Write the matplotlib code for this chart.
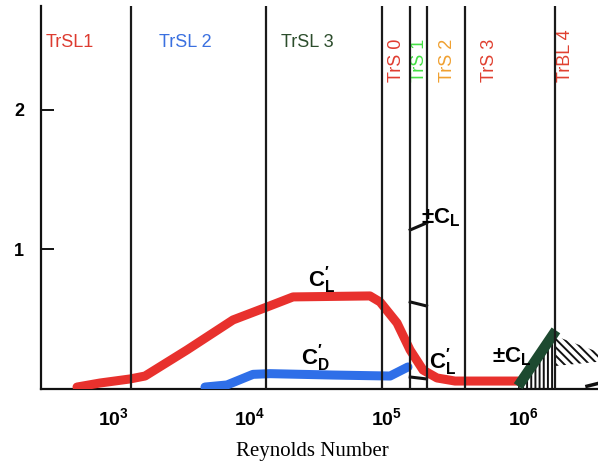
import matplotlib
matplotlib.use('Agg')
import matplotlib.pyplot as plt

plt.rcParams['mathtext.fontset'] = 'custom'
plt.rcParams['mathtext.rm'] = 'Liberation Sans'
plt.rcParams['mathtext.it'] = 'Liberation Sans'
plt.rcParams['mathtext.bf'] = 'Liberation Sans:bold'
plt.rcParams['hatch.linewidth'] = 1.4

#------------------------------------------------------------------------------#
# data
#------------------------------------------------------------------------------#
# regime boundaries (Reynolds number)
regime_bounds = [1.35e3, 1.30e4, 9.2e4, 1.47e5, 1.97e5, 3.75e5, 1.70e6]

# fluctuating lift C'_L
cl_re = [543, 800, 1325, 1706, 3459, 7500, 13300, 20600, 75200, 89100,
         118600, 147600, 183700, 232500, 314600, 908000]
cl_val = [0.014, 0.043, 0.072, 0.093, 0.28, 0.495, 0.588, 0.66, 0.667, 0.624,
          0.473, 0.28, 0.136, 0.079, 0.057, 0.057]

# fluctuating drag C'_D
cd_re = [4680, 6780, 10500, 14000, 40400, 105500, 142500]
cd_val = [0.014, 0.029, 0.105, 0.11, 0.10, 0.093, 0.158]

# +-C_L in TrBL
bl_re = [9.1e5, 1.72e6]
bl_val = [0.02, 0.42]

# diagonal hatched wedge right of TrBL 4
wedge_re = [1.70e6, 3.5e6]
wedge_top = [0.38, 0.265]
wedge_bot = [0.165, 0.195]

# short slashes between TrS 1 bounds
slash_re = [1.48e5, 1.95e5]
slash_vals = [[1.14, 1.19], [0.624, 0.595], [0.086, 0.072]]

# small dark stroke near the axis at far right
tail_re = [2.9e6, 3.5e6]
tail_val = [0.02, 0.04]

#------------------------------------------------------------------------------#
# labels
#------------------------------------------------------------------------------#
top_labels = ['TrSL1', 'TrSL 2', 'TrSL 3']
top_colors = ['#dd3b30', '#3a70e0', '#2c4d2c']
top_x = [0.052, 0.2585, 0.479]

side_labels = ['TrS 0', 'TrS 1', 'TrS 2', 'TrS 3', 'TrBL 4']
side_colors = ['#e03c30', '#44e044', '#f0a030', '#e04030', '#e04030']
side_x = [0.6386, 0.6804, 0.7307, 0.806, 0.9408]
side_y = [0.859, 0.859, 0.859, 0.859, 0.8695]

xtick_vals = [1e3, 1e4, 1e5, 1e6]
xtick_labels = [r'$\mathbf{10^{3}}$', r'$\mathbf{10^{4}}$',
                r'$\mathbf{10^{5}}$', r'$\mathbf{10^{6}}$']

#------------------------------------------------------------------------------#
fig = plt.figure(figsize=(5.98, 4.68), dpi=100)
ax = fig.add_axes([41 / 598, 79 / 468, 557 / 598, 383 / 468])
ax.set_xscale('log')
ax.set_xlim(10 ** 2.4715, 10 ** 6.543)
ax.set_ylim(0, 2.745)

for s in ['top', 'right']:
    ax.spines[s].set_visible(False)
for s in ['left', 'bottom']:
    ax.spines[s].set_linewidth(1.6)
    ax.spines[s].set_color('#111111')

# hatching
ax.fill_between(bl_re, 0, bl_val, facecolor='none', edgecolor='#111111',
                hatch='||||', linewidth=0, zorder=2)
ax.fill_between(wedge_re, wedge_bot, wedge_top, facecolor='none',
                edgecolor='#111111', hatch='\\\\\\\\', linewidth=0, zorder=2)
ax.plot(tail_re, tail_val, color='#111111', lw=2.5, zorder=2)

# curves
ax.plot(cl_re, cl_val, color='#e8312d', lw=6.5, solid_capstyle='round',
        solid_joinstyle='round', zorder=3)
ax.plot(cd_re, cd_val, color='#2f6fe8', lw=6.5, solid_capstyle='round',
        solid_joinstyle='round', zorder=3)
ax.plot(bl_re, bl_val, color='#1d4a30', lw=7.5, solid_capstyle='butt', zorder=4)

for yy in slash_vals:
    ax.plot(slash_re, yy, color='#111111', lw=2.2, zorder=4)

# regime bounds
for b in regime_bounds:
    ax.axvline(b, color='#1a1a1a', lw=1.6, zorder=5)

# regime names
for lab, c, x in zip(top_labels, top_colors, top_x):
    ax.text(x, 0.906, lab, color=c, fontsize=13, family='Liberation Sans',
            ha='center', va='center', transform=ax.transAxes)
for lab, c, x, y in zip(side_labels, side_colors, side_x, side_y):
    ax.text(x, y, lab, color=c, fontsize=13, family='Liberation Sans',
            ha='center', va='center', rotation=90, transform=ax.transAxes)

# curve annotations
ann = [(r"$\mathbf{C_L'}$", 0.5045, 0.2846),
       (r"$\mathbf{C_D'}$", 0.492, 0.081),
       (r"$\mathbf{\pm C_L}$", 0.718, 0.4465),
       (r"$\mathbf{C_L'}$", 0.7217, 0.0705),
       (r"$\mathbf{\pm C_L}$", 0.8456, 0.0836)]
for t, x, y in ann:
    ax.text(x, y, t, fontsize=16, ha='center', va='center',
            transform=ax.transAxes, zorder=6)

# ticks
ax.set_yticks([1, 2])
ax.set_yticklabels(['1', '2'], fontsize=13, fontweight='bold',
                   family='Liberation Sans')
ax.tick_params(axis='y', direction='in', length=9, width=1.3, pad=12)
ax.set_xticks(xtick_vals)
ax.set_xticklabels(xtick_labels, fontsize=14)
ax.xaxis.set_minor_locator(matplotlib.ticker.NullLocator())
ax.tick_params(axis='x', length=0, pad=13)

ax.set_xlabel('Reynolds Number', fontsize=15, family='Liberation Serif')
ax.xaxis.set_label_coords(0.4865, -0.138)

fig.savefig('out.png', dpi=100)
